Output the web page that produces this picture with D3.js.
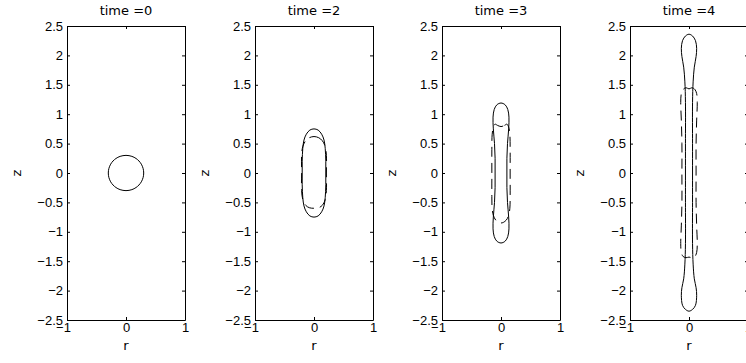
<!DOCTYPE html>
<html>
<head>
<meta charset="utf-8">
<script src="https://cdn.jsdelivr.net/npm/d3@7"></script>
<style>
  body { margin: 0; background: #fff; }
  svg { display: block; font-family: "DejaVu Sans", sans-serif; }
  .axis text { font-size: 13px; fill: #000; }
  .axis path, .axis line { stroke: #000; }
  .lbl { font-size: 13px; fill: #000; }
</style>
</head>
<body>
<div id="chart"></div>
<script>
// panel titles and ticks
const titles = ['time =0', 'time =2', 'time =3', 'time =4'];
const rTicks = [-1, 0, 1];
const zTicks = [-2.5, -2, -1.5, -1, -0.5, 0, 0.5, 1, 1.5, 2, 2.5];

// half profiles [r, z], r >= 0, from top of contour to bottom
const solid0 = [[0, 0.3], [0.1, 0.283], [0.17, 0.247], [0.22, 0.204], [0.26, 0.15], [0.29, 0.077], [0.3, 0],
  [0.29, -0.077], [0.26, -0.15], [0.22, -0.204], [0.17, -0.247], [0.1, -0.283], [0, -0.3]];

const solid2 = [[0, 0.75], [0.07, 0.73], [0.13, 0.66], [0.17, 0.56], [0.19, 0.42], [0.2, 0.2], [0.2, 0],
  [0.2, -0.2], [0.19, -0.42], [0.17, -0.56], [0.13, -0.66], [0.07, -0.73], [0, -0.75]];
const dashed2 = [[0, 0.62], [0.08, 0.6], [0.14, 0.55], [0.19, 0.45], [0.21, 0.3], [0.21, 0],
  [0.21, -0.3], [0.19, -0.45], [0.14, -0.55], [0.08, -0.59], [0, -0.6]];

const solid3 = [[0, 1.19], [0.07, 1.16], [0.115, 1.08], [0.135, 0.95], [0.13, 0.75], [0.11, 0.5], [0.1, 0.25], [0.1, 0],
  [0.1, -0.25], [0.11, -0.5], [0.13, -0.75], [0.135, -0.95], [0.115, -1.08], [0.07, -1.16], [0, -1.19]];
const dashed3 = [[0, 0.79], [0.06, 0.81], [0.1, 0.83], [0.13, 0.78], [0.15, 0.65], [0.155, 0.4], [0.155, 0],
  [0.155, -0.4], [0.15, -0.6], [0.13, -0.72], [0.09, -0.8], [0.04, -0.84], [0, -0.85]];

const solid4 = [[0, 2.36], [0.06, 2.33], [0.11, 2.25], [0.13, 2.12], [0.12, 1.98], [0.09, 1.8], [0.07, 1.55], [0.06, 1.2], [0.06, 0.5], [0.06, 0],
  [0.06, -0.5], [0.06, -1.2], [0.07, -1.55], [0.09, -1.8], [0.12, -1.95], [0.13, -2.08], [0.11, -2.25], [0.06, -2.32], [0, -2.35]];
const dashed4 = [[0, 1.43], [0.05, 1.45], [0.1, 1.42], [0.13, 1.35], [0.14, 1.2], [0.13, 0.9], [0.12, 0.5], [0.12, 0],
  [0.12, -0.5], [0.13, -0.9], [0.14, -1.2], [0.13, -1.35], [0.1, -1.42], [0.05, -1.44], [0, -1.43]];

const panels = [
  { solid: solid0, dashed: null },
  { solid: solid2, dashed: dashed2 },
  { solid: solid3, dashed: dashed3 },
  { solid: solid4, dashed: dashed4 }
];

const W = 746, H = 363;
const lefts = [67, 255, 442, 630];
const pw = 118, yTop = 26, yBottom = 320;

const svg = d3.select('#chart').append('svg')
  .attr('width', W).attr('height', H);

// mirror the half profile into a closed outline
function outline(p) {
  const left = p.slice(1, -1).reverse().map(d => [-d[0], d[1]]);
  return p.concat(left);
}

panels.forEach(function(pan, i) {
  const x = d3.scaleLinear().domain([-1, 1]).range([lefts[i], lefts[i] + pw]);
  const y = d3.scaleLinear().domain([-2.5, 2.5]).range([yBottom, yTop]);
  const fmt = d3.format('~g');

  const line = d3.line()
    .x(d => x(d[0]))
    .y(d => y(d[1]))
    .curve(d3.curveCatmullRomClosed.alpha(0.5));

  const g = svg.append('g');

  g.append('g').attr('class', 'axis')
    .attr('transform', `translate(${lefts[i]},0)`)
    .call(d3.axisLeft(y).tickValues(zTicks).tickFormat(fmt).tickSizeInner(-3).tickSizeOuter(0).tickPadding(4));
  g.append('g').attr('class', 'axis')
    .attr('transform', `translate(${lefts[i] + pw},0)`)
    .call(d3.axisRight(y).tickValues(zTicks).tickFormat('').tickSizeInner(-3).tickSizeOuter(0));
  const xa = g.append('g').attr('class', 'axis')
    .attr('transform', `translate(0,${yBottom})`)
    .call(d3.axisBottom(x).tickValues(rTicks).tickFormat(fmt).tickSizeInner(-3).tickSizeOuter(0).tickPadding(3));
  xa.selectAll('text').attr('dx', d => d < 0 ? -4 : 0);
  g.append('g').attr('class', 'axis')
    .attr('transform', `translate(0,${yTop})`)
    .call(d3.axisTop(x).tickValues(rTicks).tickFormat('').tickSizeInner(-3).tickSizeOuter(0));
  g.selectAll('.domain').attr('stroke-width', 1);

  g.append('text').attr('class', 'lbl')
    .attr('x', x(0)).attr('y', 15)
    .attr('text-anchor', 'middle')
    .text(titles[i]);
  g.append('text').attr('class', 'lbl')
    .attr('x', x(0)).attr('y', 350)
    .attr('text-anchor', 'middle')
    .text('r');
  g.append('text').attr('class', 'lbl')
    .attr('transform', `translate(${lefts[i] - 46},${y(0)}) rotate(-90)`)
    .attr('text-anchor', 'middle')
    .text('z');

  if (pan.dashed) {
    g.append('path')
      .attr('d', line(outline(pan.dashed)))
      .attr('fill', 'none')
      .attr('stroke', '#000')
      .attr('stroke-width', 1)
      .attr('stroke-dasharray', '10,6');
  }
  g.append('path')
    .attr('d', line(outline(pan.solid)))
    .attr('fill', 'none')
    .attr('stroke', '#000')
    .attr('stroke-width', 1);
});
</script>
</body>
</html>
